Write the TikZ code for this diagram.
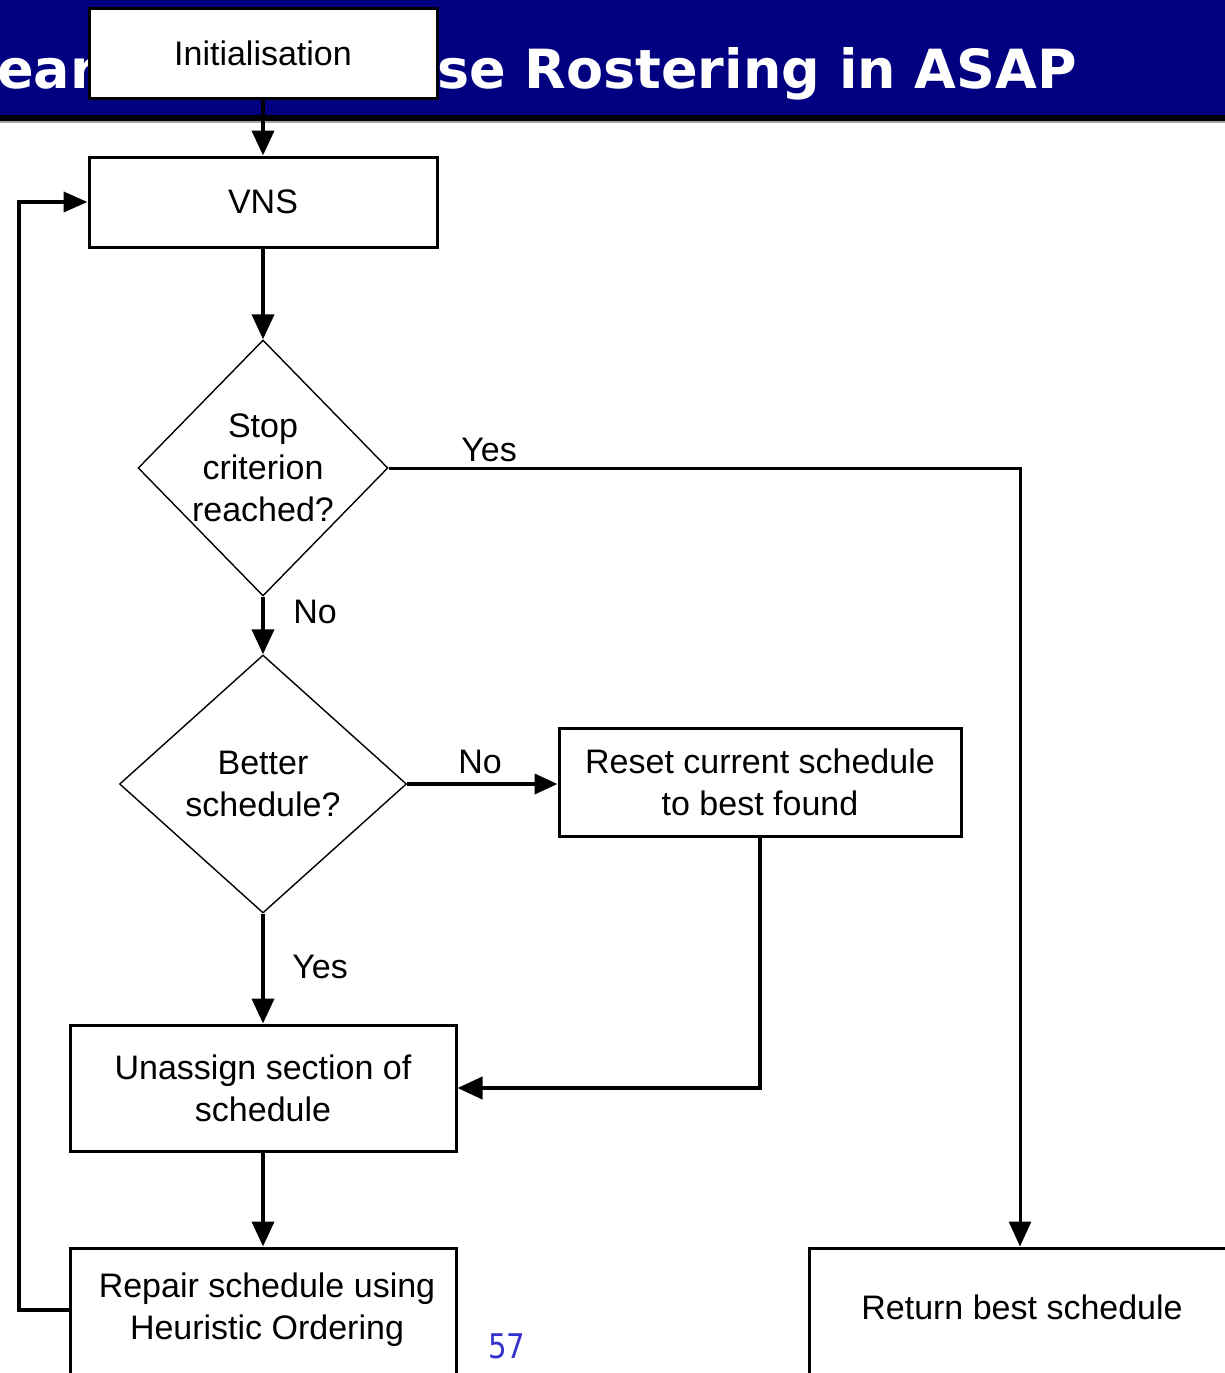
\documentclass[tikz,border=0pt]{standalone}
\usepackage{fontspec}
\setmainfont{Liberation Sans}
\newfontfamily\headfont{DejaVu Sans}
\usetikzlibrary{arrows.meta,shapes.geometric}
\definecolor{headblue}{RGB}{0,0,128}
\definecolor{pageno}{RGB}{51,51,204}

\begin{document}
\begin{tikzpicture}[x=1pt,y=-1pt,
  every node/.style={font=\fontsize{34}{42}\selectfont},
  procbox/.style={draw=black,line width=3pt,fill=white,inner sep=0pt,align=center},
  decision/.style={diamond,draw=black,line width=1.4pt,fill=white,inner sep=0pt,align=center},
  flow/.style={line width=4pt,-{Triangle[length=25pt,width=22pt]}},
  tag/.style={inner sep=0pt},
  titletext/.style={inner sep=0pt,text=white,font=\headfont\bfseries\fontsize{54}{60}\selectfont}
]
\useasboundingbox (0,0) rectangle (1225,1373);
\clip (0,0) rectangle (1225,1373);

% slide header band
\fill[headblue] (0,0) rectangle (1225,115);
\fill[black] (0,115) rectangle (1225,121);
\fill[black!35] (0,121) rectangle (1225,123);
\node[titletext,anchor=base west] (titleA) at (-3,88) {ear};
\node[titletext,anchor=base west] (titleB) at (437,88) {se Rostering in ASAP};

% process boxes
\node[procbox,minimum width=348,minimum height=90] (init) at (263,53.5) {Initialisation};
\node[procbox,minimum width=348,minimum height=90] (vns) at (263,202) {VNS};
\node[decision,minimum width=248,minimum height=256] (stop) at (263,468) {Stop\\criterion\\reached?};
\node[decision,minimum width=287,minimum height=258] (better) at (263,784) {Better\\schedule?};
\node[procbox,minimum width=402,minimum height=108] (reset) at (760,782) {Reset current schedule\\to best found};
\node[procbox,minimum width=386,minimum height=126] (unassign) at (263,1088) {Unassign section of\\schedule};
\node[procbox,minimum width=386,minimum height=160,anchor=north] (repair) at (263,1246.5) {};
\node[tag,align=center] (repairtext) at (267,1310) {Repair schedule using\\Heuristic Ordering};
\node[procbox,minimum width=422,minimum height=160,anchor=north] (return) at (1020,1246.5) {};
\node[tag] (returntext) at (1022,1307) {Return best schedule};

% connectors
\draw[flow] (init) -- (vns);
\draw[flow] (vns) -- (stop);
\draw[flow] (stop) -- (better);
\draw[flow] (better) -- (unassign);
\draw[flow] (unassign) -- (repair);
\draw[flow,-{Triangle[length=23pt,width=20pt]}] (better.east) -- (better.east -| reset.west);
\draw[flow] (reset.south) |- (unassign.east);
\draw[flow,line width=3pt] (stop.east) -| (return.north);
\draw[flow,-{Triangle[length=24pt,width=20pt]}] ([yshift=18.5pt]repair.west) -| (19,202) -- (vns.west);

% branch labels
\node[tag] (yesstop) at (489,450) {Yes};
\node[tag] (nostop) at (315,612) {No};
\node[tag] (nobetter) at (480,762) {No};
\node[tag] (yesbetter) at (320,967) {Yes};

% slide number
\node[tag,text=pageno,font=\headfont\fontsize{34}{40}\selectfont] (pagenum) at (507,1346) {\scalebox{0.86}[1]{57}};
\end{tikzpicture}
\end{document}
